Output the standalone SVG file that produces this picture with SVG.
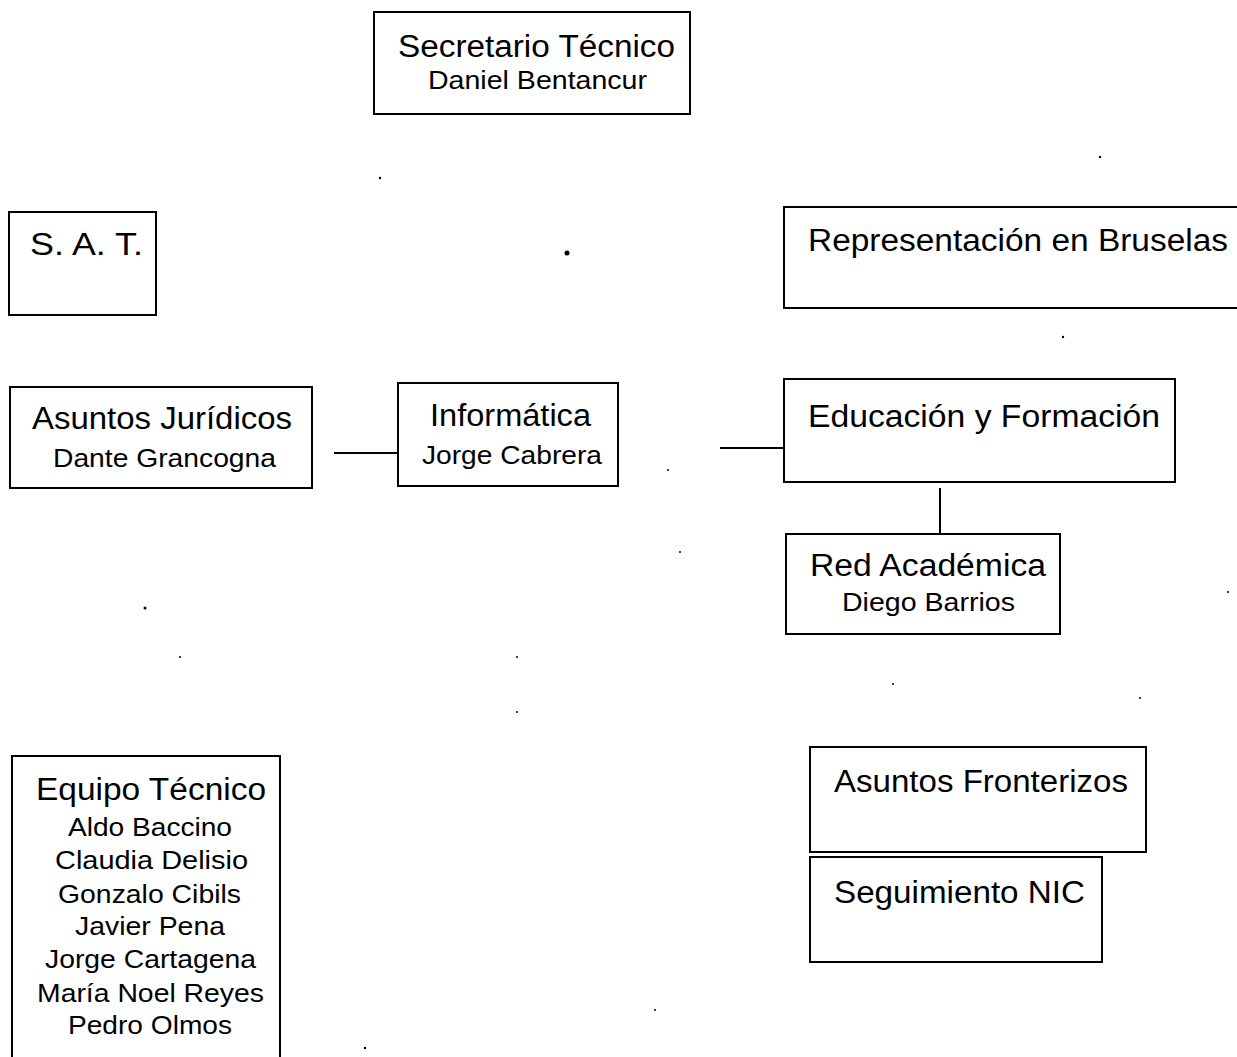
<svg xmlns="http://www.w3.org/2000/svg" width="1237" height="1057" viewBox="0 0 1237 1057">
<style>
.box{fill:#fff;stroke:#000;stroke-width:2}
.t{font-family:"Liberation Sans",Arial,sans-serif;font-size:31px;fill:#000}
.s{font-family:"Liberation Sans",Arial,sans-serif;font-size:26px;fill:#000}
.ln{stroke:#000;stroke-width:2;fill:none}
.dot{fill:#000}
</style>
<rect width="1237" height="1057" fill="#fff"/>
<g id="secretario">
<rect class="box" x="374" y="12" width="316" height="102"/>
<text class="t" x="398" y="57" textLength="277" lengthAdjust="spacingAndGlyphs">Secretario Técnico</text>
<text class="s" x="428" y="89" textLength="219" lengthAdjust="spacingAndGlyphs">Daniel Bentancur</text>
</g>
<g id="sat">
<rect class="box" x="9" y="212" width="147" height="103"/>
<text class="t" x="30" y="255" textLength="113" lengthAdjust="spacingAndGlyphs">S. A. T.</text>
</g>
<g id="bruselas">
<rect class="box" x="784" y="207" width="460" height="101"/>
<text class="t" x="808" y="251" textLength="420" lengthAdjust="spacingAndGlyphs">Representación en Bruselas</text>
</g>
<g id="juridicos">
<rect class="box" x="10" y="387" width="302" height="101"/>
<text class="t" x="32" y="429" textLength="260" lengthAdjust="spacingAndGlyphs">Asuntos Jurídicos</text>
<text class="s" x="53" y="467" textLength="223" lengthAdjust="spacingAndGlyphs">Dante Grancogna</text>
</g>
<g id="informatica">
<rect class="box" x="398" y="383" width="220" height="103"/>
<text class="t" x="430" y="426" textLength="161" lengthAdjust="spacingAndGlyphs">Informática</text>
<text class="s" x="422" y="464" textLength="180" lengthAdjust="spacingAndGlyphs">Jorge Cabrera</text>
</g>
<g id="educacion">
<rect class="box" x="784" y="379" width="391" height="103"/>
<text class="t" x="808" y="427" textLength="352" lengthAdjust="spacingAndGlyphs">Educación y Formación</text>
</g>
<g id="redacademica">
<rect class="box" x="786" y="534" width="274" height="100"/>
<text class="t" x="810" y="576" textLength="236" lengthAdjust="spacingAndGlyphs">Red Académica</text>
<text class="s" x="842" y="611" textLength="173" lengthAdjust="spacingAndGlyphs">Diego Barrios</text>
</g>
<g id="equipo">
<path class="ln" d="M12 1057 V756 H280 V1057"/>
<text class="t" x="36" y="800" textLength="230" lengthAdjust="spacingAndGlyphs">Equipo Técnico</text>
<text class="s" x="68" y="836" textLength="164" lengthAdjust="spacingAndGlyphs">Aldo Baccino</text>
<text class="s" x="55" y="869" textLength="193" lengthAdjust="spacingAndGlyphs">Claudia Delisio</text>
<text class="s" x="58" y="903" textLength="183" lengthAdjust="spacingAndGlyphs">Gonzalo Cibils</text>
<text class="s" x="75" y="935" textLength="150" lengthAdjust="spacingAndGlyphs">Javier Pena</text>
<text class="s" x="45" y="968" textLength="211" lengthAdjust="spacingAndGlyphs">Jorge Cartagena</text>
<text class="s" x="37" y="1002" textLength="227" lengthAdjust="spacingAndGlyphs">María Noel Reyes</text>
<text class="s" x="68" y="1034" textLength="164" lengthAdjust="spacingAndGlyphs">Pedro Olmos</text>
</g>
<g id="fronterizos">
<rect class="box" x="810" y="747" width="336" height="105"/>
<text class="t" x="834" y="792" textLength="294" lengthAdjust="spacingAndGlyphs">Asuntos Fronterizos</text>
</g>
<g id="nic">
<rect class="box" x="810" y="857" width="292" height="105"/>
<text class="t" x="834" y="903" textLength="251" lengthAdjust="spacingAndGlyphs">Seguimiento NIC</text>
</g>
<g id="connectors">
<line class="ln" x1="334" y1="453" x2="398" y2="453"/>
<line class="ln" x1="720" y1="448" x2="784" y2="448"/>
<line class="ln" x1="940" y1="488" x2="940" y2="534"/>
</g>
<g id="specks">
<circle class="dot" cx="567" cy="253" r="2.5"/>
<circle class="dot" cx="380" cy="178" r="1.2"/>
<circle class="dot" cx="1100" cy="157" r="1.2"/>
<circle class="dot" cx="1063" cy="337" r="1.2"/>
<circle class="dot" cx="668" cy="470" r="1"/>
<circle class="dot" cx="145" cy="608" r="1.5"/>
<circle class="dot" cx="680" cy="552" r="1"/>
<circle class="dot" cx="180" cy="657" r="1"/>
<circle class="dot" cx="517" cy="657" r="1"/>
<circle class="dot" cx="1228" cy="592" r="1"/>
<circle class="dot" cx="893" cy="684" r="1"/>
<circle class="dot" cx="1140" cy="698" r="1"/>
<circle class="dot" cx="517" cy="712" r="1"/>
<circle class="dot" cx="655" cy="1010" r="1"/>
<circle class="dot" cx="365" cy="1048" r="1.2"/>
</g>
</svg>
